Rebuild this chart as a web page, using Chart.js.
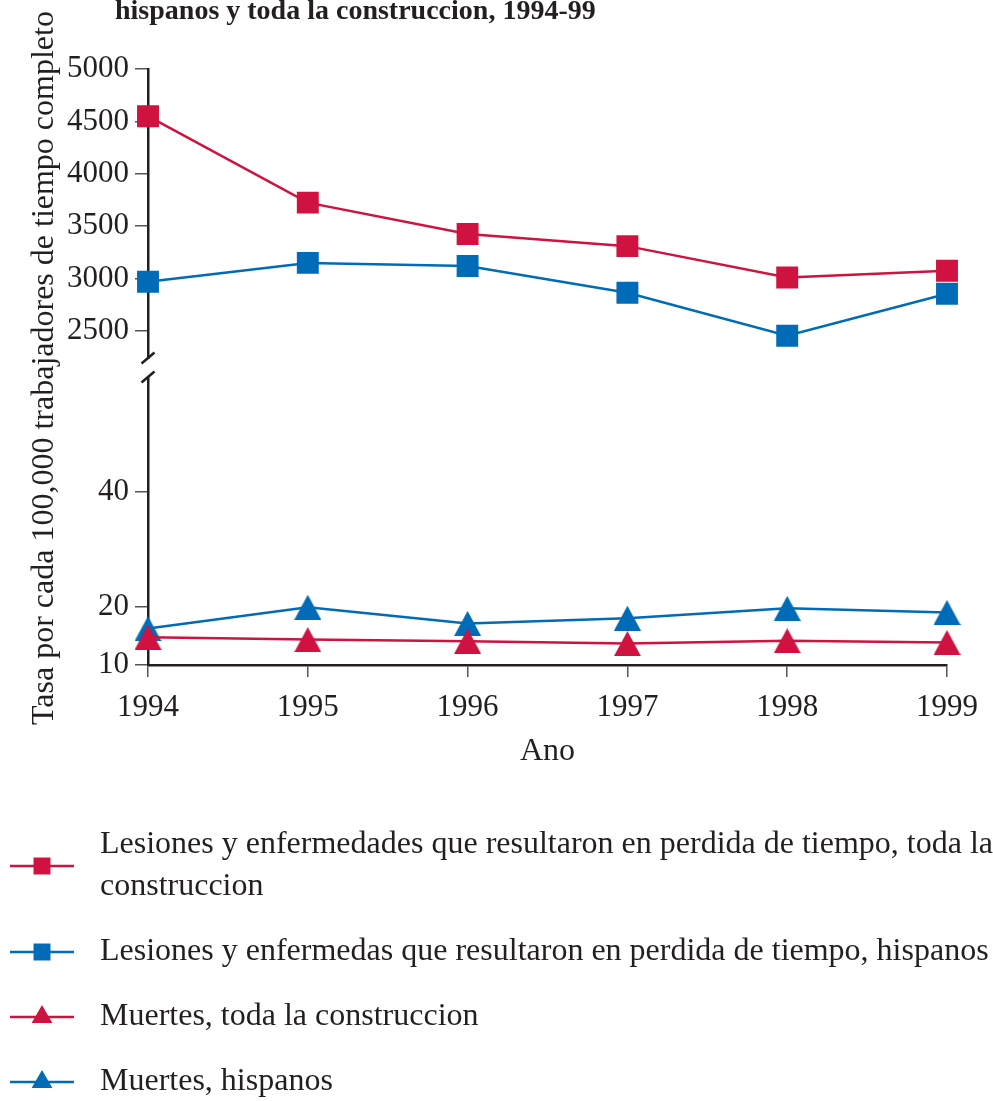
<!DOCTYPE html>
<html>
<head>
<meta charset="utf-8">
<script src="https://cdn.jsdelivr.net/npm/chart.js@4/dist/chart.umd.min.js"></script>
<style>
  html, body { margin: 0; padding: 0; background: #fff; }
</style>
</head>
<body>
<canvas id="chart" width="993" height="1101"></canvas>
<script>
const years = ["1994", "1995", "1996", "1997", "1998", "1999"];
const lostTimeAll = [4550, 3725, 3425, 3310, 3010, 3075];
const lostTimeHisp = [2970, 3150, 3120, 2865, 2455, 2855];
const deathsAll = [14.8, 14.4, 14.1, 13.7, 14.2, 13.9];
const deathsHisp = [16.3, 20.0, 17.2, 18.1, 19.8, 19.1];
const topTicks = [2500, 3000, 3500, 4000, 4500, 5000];
const bottomTicks = [10, 20, 40];
const seriesLabels = [
  ["Lesiones y enfermedades que resultaron en perdida de tiempo, toda la", "construccion"],
  ["Lesiones y enfermedas que resultaron en perdida de tiempo, hispanos"],
  ["Muertes, toda la construccion"],
  ["Muertes, hispanos"],
];
const titleText = "hispanos y toda la construccion, 1994-99";
const yTitleText = "Tasa por cada 100,000 trabajadores de tiempo completo";

const RED = "#cf1240";
const BLUE = "#006bb6";
const INK = "#231f20";
const FONT = "'Liberation Serif', 'Times New Roman', serif";

const ctx = document.querySelector("#chart").getContext("2d");

// triangle marker centred on its box, like the original
function triangle(color) {
  const cv = document.createElement("canvas");
  cv.width = 27;
  cv.height = 25;
  const g = cv.getContext("2d");
  g.fillStyle = color;
  g.beginPath();
  g.moveTo(13.5, 0);
  g.lineTo(27, 25);
  g.lineTo(0, 25);
  g.closePath();
  g.fill();
  return cv;
}

function line(label, data, axis, color, style) {
  return {
    label: label.join(" "),
    data: data,
    yAxisID: axis,
    borderColor: color,
    backgroundColor: color,
    borderWidth: 2.5,
    pointStyle: style === "triangle" ? triangle(color) : style,
    legendStyle: style,
    pointRadius: 15.5,
    pointHoverRadius: 15.5,
    pointBorderWidth: 0,
    tension: 0,
  };
}

function yAxis(ticks, min, max, weight) {
  return {
    type: "linear",
    position: "left",
    stack: "rates",
    stackWeight: weight,
    min: min,
    max: max,
    afterBuildTicks: (scale) => {
      scale.ticks = ticks.map((v) => ({ value: v }));
    },
    afterFit: (scale) => {
      scale.width = 148;
    },
    grid: { drawOnChartArea: false, tickLength: 13, color: "#555", lineWidth: 1.5 },
    border: { color: INK, width: 2.5 },
    ticks: {
      color: INK,
      padding: 6,
      autoSkip: false,
      font: { family: FONT, size: 31 },
      callback: (v) => String(v),
    },
  };
}

// white gap on the y axis with the two break slashes, plus titles and legend
const extras = {
  id: "extras",
  afterDraw(chart) {
    const c = chart.ctx;
    const x = chart.chartArea.left;
    c.save();
    c.fillStyle = "#fff";
    c.fillRect(x - 9, 359, 18, 17);
    c.strokeStyle = INK;
    c.lineWidth = 2.5;
    [358, 377].forEach((y) => {
      c.beginPath();
      c.moveTo(x - 6.5, y + 5.5);
      c.lineTo(x + 6.5, y - 5.5);
      c.stroke();
    });

    c.fillStyle = INK;
    c.font = "bold 28px " + FONT;
    c.textAlign = "left";
    c.textBaseline = "alphabetic";
    c.fillText(titleText, 115, 19);

    c.save();
    c.translate(53, 725);
    c.rotate(-Math.PI / 2);
    c.font = "32px " + FONT;
    c.fillText(yTitleText, 0, 0);
    c.restore();

    let y = 845;
    chart.data.datasets.forEach((ds, i) => {
      const lines = seriesLabels[i];
      const my = y + (lines.length - 1) * 21;
      c.strokeStyle = ds.borderColor;
      c.lineWidth = 2.5;
      c.beginPath();
      c.moveTo(10, my);
      c.lineTo(74, my);
      c.stroke();
      c.fillStyle = ds.backgroundColor;
      Chart.helpers.drawPoint(c, { pointStyle: ds.legendStyle, radius: 12, rotation: 0, borderWidth: 0 }, 42, my);
      c.fillStyle = INK;
      c.font = "32px " + FONT;
      c.textBaseline = "middle";
      lines.forEach((t, k) => c.fillText(t, 100, y + k * 42));
      y += lines.length * 42 + 23;
    });
    c.restore();
  },
};

new Chart(ctx, {
  type: "line",
  data: {
    labels: years,
    datasets: [
      line(seriesLabels[0], lostTimeAll, "yTop", RED, "rect"),
      line(seriesLabels[1], lostTimeHisp, "yTop", BLUE, "rect"),
      line(seriesLabels[2], deathsAll, "yBot", RED, "triangle"),
      line(seriesLabels[3], deathsHisp, "yBot", BLUE, "triangle"),
    ],
  },
  options: {
    responsive: false,
    devicePixelRatio: 1,
    animation: false,
    layout: { padding: { top: 69, right: 46, bottom: 326, left: 0 } },
    plugins: {
      legend: { display: false },
      tooltip: { enabled: false },
      title: { display: false },
    },
    scales: {
      x: {
        type: "category",
        offset: false,
        afterFit: (scale) => {
          scale.height = 110;
        },
        grid: { drawOnChartArea: false, tickLength: 12, color: "#555", lineWidth: 1.5 },
        border: { color: INK, width: 2.5 },
        ticks: { color: INK, padding: 12, maxRotation: 0, font: { family: FONT, size: 31 } },
        title: { display: true, text: "Ano", color: INK, font: { family: FONT, size: 32 } },
      },
      // first scale of the stack is placed at the bottom
      yBot: yAxis(bottomTicks, 10, 61.9, 300),
      yTop: yAxis(topTicks, 2176, 5000, 296),
    },
  },
  plugins: [extras],
});
</script>
</body>
</html>
